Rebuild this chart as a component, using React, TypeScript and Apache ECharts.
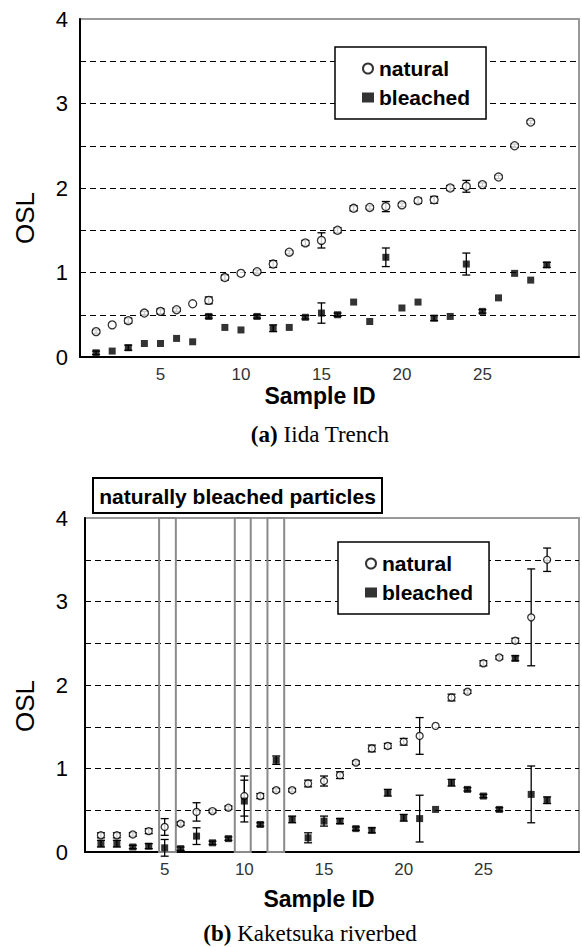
import React, { useEffect, useRef } from "react";
import * as echarts from "echarts";

// ---- data ----
const sampleIds = [1, 2, 3, 4, 5, 6, 7, 8, 9, 10, 11, 12, 13, 14, 15, 16, 17, 18, 19, 20, 21, 22, 23, 24, 25, 26, 27, 28, 29];
const yTicks = [0, 1, 2, 3, 4];

// (a) Iida Trench
const naturalA = [0.30, 0.38, 0.43, 0.52, 0.54, 0.56, 0.63, 0.67, 0.94, 0.99, 1.01, 1.10, 1.24, 1.35, 1.38, 1.50, 1.76, 1.77, 1.78, 1.80, 1.85, 1.86, 2.00, 2.02, 2.04, 2.13, 2.50, 2.78];
const naturalAErr = [0.02, 0, 0.03, 0.02, 0.03, 0.02, 0, 0.04, 0.03, 0, 0.02, 0.04, 0.02, 0.03, 0.09, 0.03, 0.03, 0.02, 0.06, 0.02, 0.03, 0.04, 0.03, 0.07, 0.02, 0.02, 0.02, 0.02];
const bleachedA = [0.05, 0.07, 0.11, 0.16, 0.16, 0.22, 0.18, 0.48, 0.35, 0.32, 0.48, 0.34, 0.35, 0.47, 0.52, 0.50, 0.65, 0.42, 1.18, 0.58, 0.65, 0.46, 0.48, 1.10, 0.54, 0.70, 0.99, 0.91, 1.09];
const bleachedAErr = [0.02, 0, 0.03, 0, 0, 0, 0, 0.02, 0, 0, 0.02, 0.04, 0, 0.02, 0.12, 0.02, 0, 0, 0.11, 0, 0, 0.03, 0, 0.13, 0.02, 0, 0, 0, 0.03];

// (b) Kaketsuka riverbed
const naturalB = [0.20, 0.20, 0.21, 0.25, 0.30, 0.34, 0.48, 0.49, 0.53, 0.67, 0.67, 0.74, 0.74, 0.82, 0.85, 0.92, 1.07, 1.24, 1.27, 1.32, 1.39, 1.51, 1.85, 1.92, 2.26, 2.33, 2.53, 2.81, 3.50];
const naturalBErr = [0.03, 0.03, 0.02, 0.03, 0.10, 0.02, 0.11, 0.02, 0.02, 0.24, 0.03, 0.02, 0.02, 0.04, 0.06, 0.04, 0.02, 0.04, 0.03, 0.04, 0.22, 0, 0.04, 0.02, 0.03, 0.02, 0.03, 0.58, 0.14];
const bleachedB = [0.10, 0.10, 0.06, 0.07, 0.05, 0.04, 0.19, 0.11, 0.16, 0.61, 0.33, 1.10, 0.39, 0.17, 0.37, 0.37, 0.28, 0.26, 0.71, 0.41, 0.40, 0.51, 0.83, 0.75, 0.67, 0.51, 2.32, 0.69, 0.62];
const bleachedBErr = [0.04, 0.04, 0.02, 0.03, 0.10, 0.02, 0.10, 0.02, 0.02, 0.25, 0.02, 0.05, 0.04, 0.06, 0.06, 0.03, 0.02, 0.03, 0.04, 0.04, 0.28, 0, 0.04, 0.02, 0.02, 0.02, 0.03, 0.34, 0.04];

// "naturally bleached particles" boxes (sample-ID ranges)
const boxFrom = [4.65, 9.4, 11.45];
const boxTo = [5.7, 10.4, 12.5];

const SANS = "Liberation Sans, Arial, Helvetica, sans-serif";
const SERIF = "Liberation Serif, Times New Roman, serif";

function points(vals: number[]) {
  return vals.map((v, i) => [sampleIds[i], v]);
}
function errPoints(vals: number[], errs: number[]) {
  const out: number[][] = [];
  vals.forEach((v, i) => {
    if (errs[i] > 0) out.push([sampleIds[i], v - errs[i], v + errs[i]]);
  });
  return out;
}

const renderErr = (params: any, api: any) => {
  const x = api.value(0);
  const lo = api.coord([x, api.value(1)]);
  const hi = api.coord([x, api.value(2)]);
  const hw = 4;
  const st = { stroke: "#000", lineWidth: 1.3 };
  return {
    type: "group",
    children: [
      { type: "line", shape: { x1: hi[0], y1: hi[1], x2: lo[0], y2: lo[1] }, style: st },
      { type: "line", shape: { x1: hi[0] - hw, y1: hi[1], x2: hi[0] + hw, y2: hi[1] }, style: st },
      { type: "line", shape: { x1: lo[0] - hw, y1: lo[1], x2: lo[0] + hw, y2: lo[1] }, style: st },
    ],
  };
};

function xAxis(grid: number) {
  return {
    type: "value",
    gridIndex: grid,
    min: 0,
    max: 31,
    interval: 5,
    axisLine: { show: true, lineStyle: { color: "#000", width: 2 } },
    axisTick: { show: false },
    splitLine: { show: false },
    axisLabel: {
      fontSize: 17,
      fontFamily: SANS,
      color: "#333",
      margin: 9,
      formatter: (v: number) => (v === 0 || v >= 30 ? "" : String(v)),
    },
  };
}
function yAxis(grid: number, margin: number) {
  return {
    type: "value",
    gridIndex: grid,
    min: 0,
    max: 4,
    interval: 0.5,
    axisLine: { show: true, lineStyle: { color: "#000", width: 2 } },
    axisTick: { show: false },
    splitLine: {
      show: true,
      showMinLine: false,
      showMaxLine: false,
      lineStyle: { color: "#000", width: 1, type: [6, 4] },
    },
    axisLabel: {
      fontSize: 22,
      fontFamily: SANS,
      color: "#000",
      margin,
      padding: [12, 0, 0, 0],
      formatter: (v: number) => (yTicks.indexOf(v) >= 0 ? String(v) : ""),
    },
  };
}
function legend(left: number, top: number) {
  return {
    left,
    top,
    orient: "vertical",
    data: ["natural", "bleached"],
    backgroundColor: "#fff",
    borderColor: "#000",
    borderWidth: 1.5,
    borderRadius: 0,
    padding: [11, 16, 11, 27],
    itemGap: 8,
    itemWidth: 12,
    itemHeight: 10,
    itemTextGap: 10,
    selectedMode: false,
    textStyle: { fontSize: 21, fontWeight: "bold", fontFamily: SANS, color: "#000", lineHeight: 21 },
  };
}
const naturalStyle = { color: "#fff", borderColor: "#000", borderWidth: 1.3 };
const bleachedStyle = { color: "#000" };

export default function App() {
  const ref = useRef<HTMLDivElement>(null);
  useEffect(() => {
    if (!ref.current) return;
    const chart = echarts.init(ref.current, null, { renderer: "svg" });
    chart.setOption({
      animation: false,
      backgroundColor: "#fff",
      grid: [
        { left: 80, top: 19, width: 31 * 16.4, height: 338, show: true, borderColor: "#999", borderWidth: 2, backgroundColor: "transparent" },
        { left: 85, top: 518, width: 31 * 16.93, height: 334, show: true, borderColor: "#999", borderWidth: 2, backgroundColor: "transparent" },
      ],
      xAxis: [xAxis(0), xAxis(1)],
      yAxis: [yAxis(0, 12), yAxis(1, 17)],
      legend: [legend(335, 47), legend(338, 542)],
      series: [
        {
          type: "custom", xAxisIndex: 0, yAxisIndex: 0, z: 2, silent: true,
          renderItem: renderErr, encode: { x: 0, y: [1, 2] },
          data: [...errPoints(naturalA, naturalAErr), ...errPoints(bleachedA, bleachedAErr)],
        },
        {
          name: "natural", type: "scatter", xAxisIndex: 0, yAxisIndex: 0, z: 3,
          symbol: "circle", symbolSize: 8, itemStyle: naturalStyle, data: points(naturalA),
        },
        {
          name: "bleached", type: "scatter", xAxisIndex: 0, yAxisIndex: 0, z: 3,
          symbol: "rect", symbolSize: 7, itemStyle: bleachedStyle, data: points(bleachedA),
        },
        {
          type: "custom", xAxisIndex: 1, yAxisIndex: 1, z: 2, silent: true,
          renderItem: renderErr, encode: { x: 0, y: [1, 2] },
          data: [...errPoints(naturalB, naturalBErr), ...errPoints(bleachedB, bleachedBErr)],
        },
        {
          name: "natural", type: "scatter", xAxisIndex: 1, yAxisIndex: 1, z: 3,
          symbol: "circle", symbolSize: 7, itemStyle: naturalStyle, data: points(naturalB),
          markArea: {
            silent: true,
            itemStyle: { color: "rgba(0,0,0,0)", borderColor: "#8a8a8a", borderWidth: 2 },
            data: boxFrom.map((f, i) => [{ xAxis: f }, { xAxis: boxTo[i] }]),
          },
        },
        {
          name: "bleached", type: "scatter", xAxisIndex: 1, yAxisIndex: 1, z: 3,
          symbol: "rect", symbolSize: 7, itemStyle: bleachedStyle, data: points(bleachedB),
        },
      ],
      graphic: [
        { type: "text", x: 25, y: 218, rotation: Math.PI / 2, style: { text: "OSL", fontSize: 26, fontFamily: SANS, fill: "#000", align: "center", verticalAlign: "middle" } },
        { type: "text", x: 320, y: 396, style: { text: "Sample ID", fontSize: 23, fontWeight: "bold", fontFamily: SANS, fill: "#000", align: "center", verticalAlign: "middle" } },
        {
          type: "text", x: 320, y: 434,
          style: {
            text: "{b|(a)} Iida Trench", fontSize: 23, fontFamily: SERIF, fill: "#000", align: "center", verticalAlign: "middle",
            rich: { b: { fontSize: 23, fontFamily: SERIF, fontWeight: "bold", fill: "#000" } },
          },
        },
        { type: "rect", shape: { x: 93, y: 478, width: 289, height: 35 }, style: { fill: "#fff", stroke: "#000", lineWidth: 2 } },
        { type: "text", x: 237.5, y: 496, style: { text: "naturally bleached particles", fontSize: 21, fontWeight: "bold", fontFamily: SANS, fill: "#000", align: "center", verticalAlign: "middle" } },
        { type: "text", x: 25, y: 706, rotation: Math.PI / 2, style: { text: "OSL", fontSize: 26, fontFamily: SANS, fill: "#000", align: "center", verticalAlign: "middle" } },
        { type: "text", x: 319, y: 899, style: { text: "Sample ID", fontSize: 23, fontWeight: "bold", fontFamily: SANS, fill: "#000", align: "center", verticalAlign: "middle" } },
        {
          type: "text", x: 310, y: 933,
          style: {
            text: "{b|(b)} Kaketsuka riverbed", fontSize: 23, fontFamily: SERIF, fill: "#000", align: "center", verticalAlign: "middle",
            rich: { b: { fontSize: 23, fontFamily: SERIF, fontWeight: "bold", fill: "#000" } },
          },
        },
      ],
    });
    return () => chart.dispose();
  }, []);
  return <div ref={ref} style={{ position: "absolute", left: 0, top: 0, width: 582, height: 947 }} />;
}
